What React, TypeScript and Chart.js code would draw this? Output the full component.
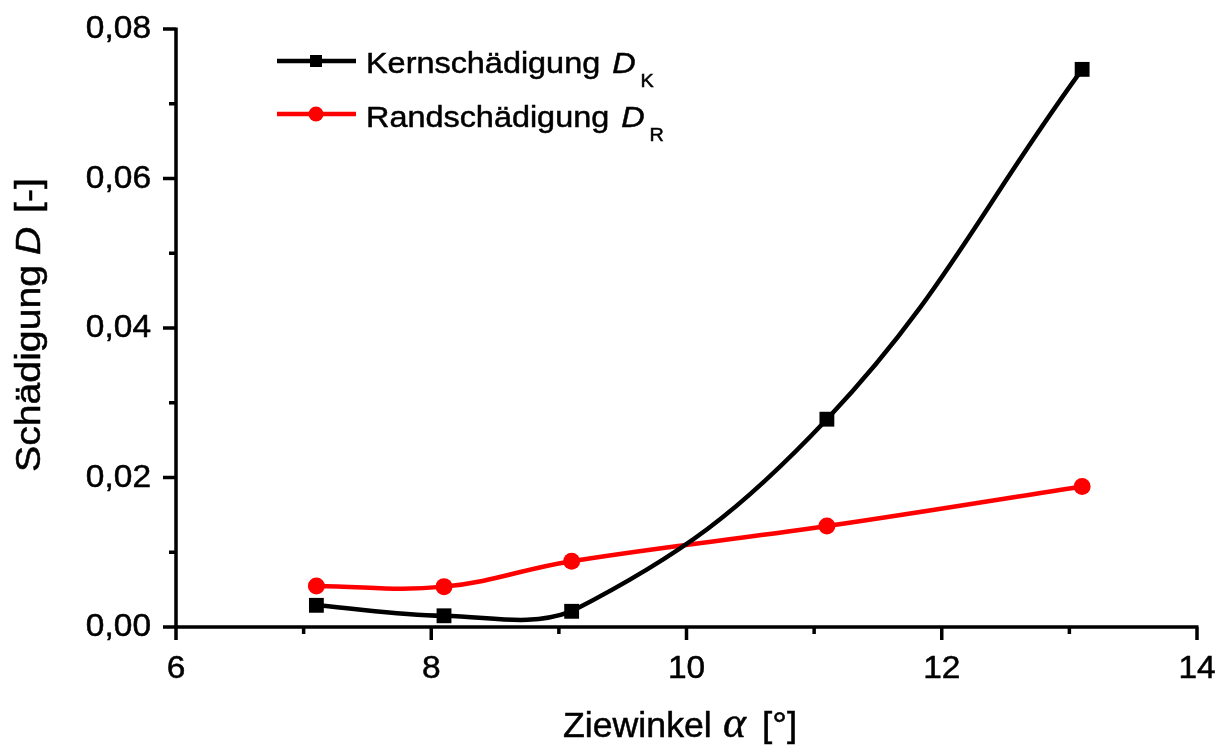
import React, { useEffect, useRef } from 'react';
import { Chart, registerables } from 'chart.js';

Chart.register(...registerables);

const xValues = [7.1, 8.1, 9.1, 11.1, 13.1];
const kernValues = [0.0029, 0.0015, 0.0021, 0.0278, 0.0746];
const randValues = [0.0055, 0.0054, 0.0088, 0.0135, 0.0188];
const xMajorTicks = [6, 8, 10, 12, 14];
const xMinorTicks = [7, 9, 11, 13];
const yMajorTicks = [0, 0.02, 0.04, 0.06, 0.08];
const yMinorTicks = [0.01, 0.03, 0.05, 0.07];
const xTickLabels = ['6', '8', '10', '12', '14'];
const yTickLabels = ['0,00', '0,02', '0,04', '0,06', '0,08'];
const seriesNames = ['Kernschädigung', 'Randschädigung'];
const seriesSymbols = ['D', 'D'];
const seriesSubscripts = ['K', 'R'];
const seriesColors = ['#000000', '#ff0000'];
const xTitleParts = ['Ziewinkel', 'α', '[°]'];
const yTitleParts = ['Schädigung', 'D', '[-]'];

const SANS = '"Liberation Sans", Arial, Helvetica, sans-serif';
const SERIF = '"Liberation Serif", "Times New Roman", serif';

// draws text with a horizontal stretch factor, returns advance width
function stretchText(ctx: CanvasRenderingContext2D, text: string, font: string, x: number, y: number, sx: number, align: 'left' | 'center' | 'right' = 'left') {
  ctx.font = font;
  const w = ctx.measureText(text).width * sx;
  let x0 = x;
  if (align === 'center') x0 = x - w / 2;
  if (align === 'right') x0 = x - w;
  ctx.save();
  ctx.translate(x0, y);
  ctx.scale(sx, 1);
  ctx.textAlign = 'left';
  ctx.fillText(text, 0, 0);
  ctx.lineWidth = 0.5;
  ctx.strokeStyle = ctx.fillStyle as string;
  ctx.strokeText(text, 0, 0);
  ctx.restore();
  return w;
}

const decorPlugin = {
  id: 'decor',
  afterDraw(chart: any) {
    const ctx: CanvasRenderingContext2D = chart.ctx;
    const xs = chart.scales.x;
    const ys = chart.scales.y;
    const { left, bottom, right, top } = chart.chartArea;
    ctx.save();
    ctx.strokeStyle = '#000';
    ctx.lineWidth = 3.5;
    ctx.lineCap = 'butt';
    ctx.beginPath();
    ctx.moveTo(left, top - 1.5);
    ctx.lineTo(left, bottom + 1.75);
    ctx.moveTo(left - 1.75, bottom);
    ctx.lineTo(right + 1.5, bottom);
    xMajorTicks.forEach((v) => {
      const px = xs.getPixelForValue(v);
      ctx.moveTo(px, bottom);
      ctx.lineTo(px, bottom + 13);
    });
    xMinorTicks.forEach((v) => {
      const px = xs.getPixelForValue(v);
      ctx.moveTo(px, bottom);
      ctx.lineTo(px, bottom + 7);
    });
    yMajorTicks.forEach((v) => {
      const py = ys.getPixelForValue(v);
      ctx.moveTo(left, py);
      ctx.lineTo(left - 13, py);
    });
    yMinorTicks.forEach((v) => {
      const py = ys.getPixelForValue(v);
      ctx.moveTo(left, py);
      ctx.lineTo(left - 7, py);
    });
    ctx.stroke();

    // tick labels
    ctx.fillStyle = '#000';
    ctx.textBaseline = 'alphabetic';
    const tickFont = `31px ${SANS}`;
    xMajorTicks.forEach((v, i) => {
      stretchText(ctx, xTickLabels[i], tickFont, xs.getPixelForValue(v), bottom + 51, 1.08, 'center');
    });
    yMajorTicks.forEach((v, i) => {
      stretchText(ctx, yTickLabels[i], tickFont, 151, ys.getPixelForValue(v) + 9, 1.08, 'right');
    });

    // x axis title
    stretchText(ctx, xTitleParts[0], `35px ${SANS}`, 563, 737, 1.02);
    stretchText(ctx, xTitleParts[1], `italic 44px ${SERIF}`, 723, 737, 1.0);
    stretchText(ctx, xTitleParts[2], `35px ${SANS}`, 762, 737, 1.05);

    // y axis title (rotated)
    ctx.save();
    ctx.translate(40, 472);
    ctx.rotate(-Math.PI / 2);
    stretchText(ctx, yTitleParts[0], `35px ${SANS}`, 0, 0, 1.12);
    stretchText(ctx, yTitleParts[1], `italic 35px ${SANS}`, 217, 0, 1.12);
    stretchText(ctx, yTitleParts[2], `35px ${SANS}`, 259, 0, 1.12);
    ctx.restore();

    // legend
    const legendY = [61, 114];
    chart.data.datasets.forEach((ds: any, i: number) => {
      const y = legendY[i];
      ctx.strokeStyle = seriesColors[i];
      ctx.lineWidth = 4.5;
      ctx.beginPath();
      ctx.moveTo(277, y);
      ctx.lineTo(356, y);
      ctx.stroke();
      ctx.fillStyle = seriesColors[i];
      if (i === 0) {
        ctx.fillRect(310, y - 6, 12, 12);
      } else {
        ctx.beginPath();
        ctx.arc(316, y, 7.5, 0, Math.PI * 2);
        ctx.fill();
      }
      ctx.fillStyle = '#000';
      ctx.textBaseline = 'alphabetic';
      const base = y + 12 + i;
      let x = 366;
      x += stretchText(ctx, seriesNames[i], `30px ${SANS}`, x, base, 1.08);
      x += 12;
      x += stretchText(ctx, seriesSymbols[i], `italic 30px ${SANS}`, x, base, 1.08);
      x += 5;
      stretchText(ctx, seriesSubscripts[i], `18px ${SANS}`, x, base + 14, 1.1);
    });
    ctx.restore();
  },
};

export default function App() {
  const canvasRef = useRef<HTMLCanvasElement | null>(null);

  useEffect(() => {
    document.body.style.margin = '0';
    const canvas = canvasRef.current;
    if (!canvas) return;
    const chart = new Chart(canvas, {
      type: 'line',
      data: {
        datasets: [
          {
            label: 'Kernschädigung DK',
            data: xValues.map((x, i) => ({ x, y: kernValues[i] })),
            borderColor: seriesColors[0],
            backgroundColor: seriesColors[0],
            borderWidth: 4.5,
            pointStyle: 'rect',
            pointRadius: 10.5,
            pointHoverRadius: 10.5,
            pointBorderWidth: 0,
            tension: 0.4,
          },
          {
            label: 'Randschädigung DR',
            data: xValues.map((x, i) => ({ x, y: randValues[i] })),
            borderColor: seriesColors[1],
            backgroundColor: seriesColors[1],
            borderWidth: 4.5,
            pointStyle: 'circle',
            pointRadius: 8.5,
            pointHoverRadius: 8.5,
            pointBorderWidth: 0,
            tension: 0.4,
          },
        ],
      },
      options: {
        animation: false,
        responsive: false,
        events: [],
        layout: { padding: { left: 0, top: 29, right: 28, bottom: 0 } },
        plugins: {
          legend: { display: false },
          tooltip: { enabled: false },
          title: { display: false },
        },
        scales: {
          x: {
            type: 'linear',
            min: 6,
            max: 14,
            afterFit: (s: any) => {
              s.height = 120;
            },
            grid: { display: false, drawTicks: false },
            border: { display: false },
            ticks: { display: false, stepSize: 2 },
          },
          y: {
            type: 'linear',
            min: 0,
            max: 0.08,
            afterFit: (s: any) => {
              s.width = 176;
            },
            grid: { display: false, drawTicks: false },
            border: { display: false },
            ticks: { display: false, stepSize: 0.02 },
          },
        },
      },
      plugins: [decorPlugin],
    } as any);
    return () => chart.destroy();
  }, []);

  return (
    <div style={{ position: 'absolute', left: 0, top: 0, width: 1225, height: 747, background: '#fff' }}>
      <canvas ref={canvasRef} width={1225} height={747} style={{ display: 'block' }} />
    </div>
  );
}
